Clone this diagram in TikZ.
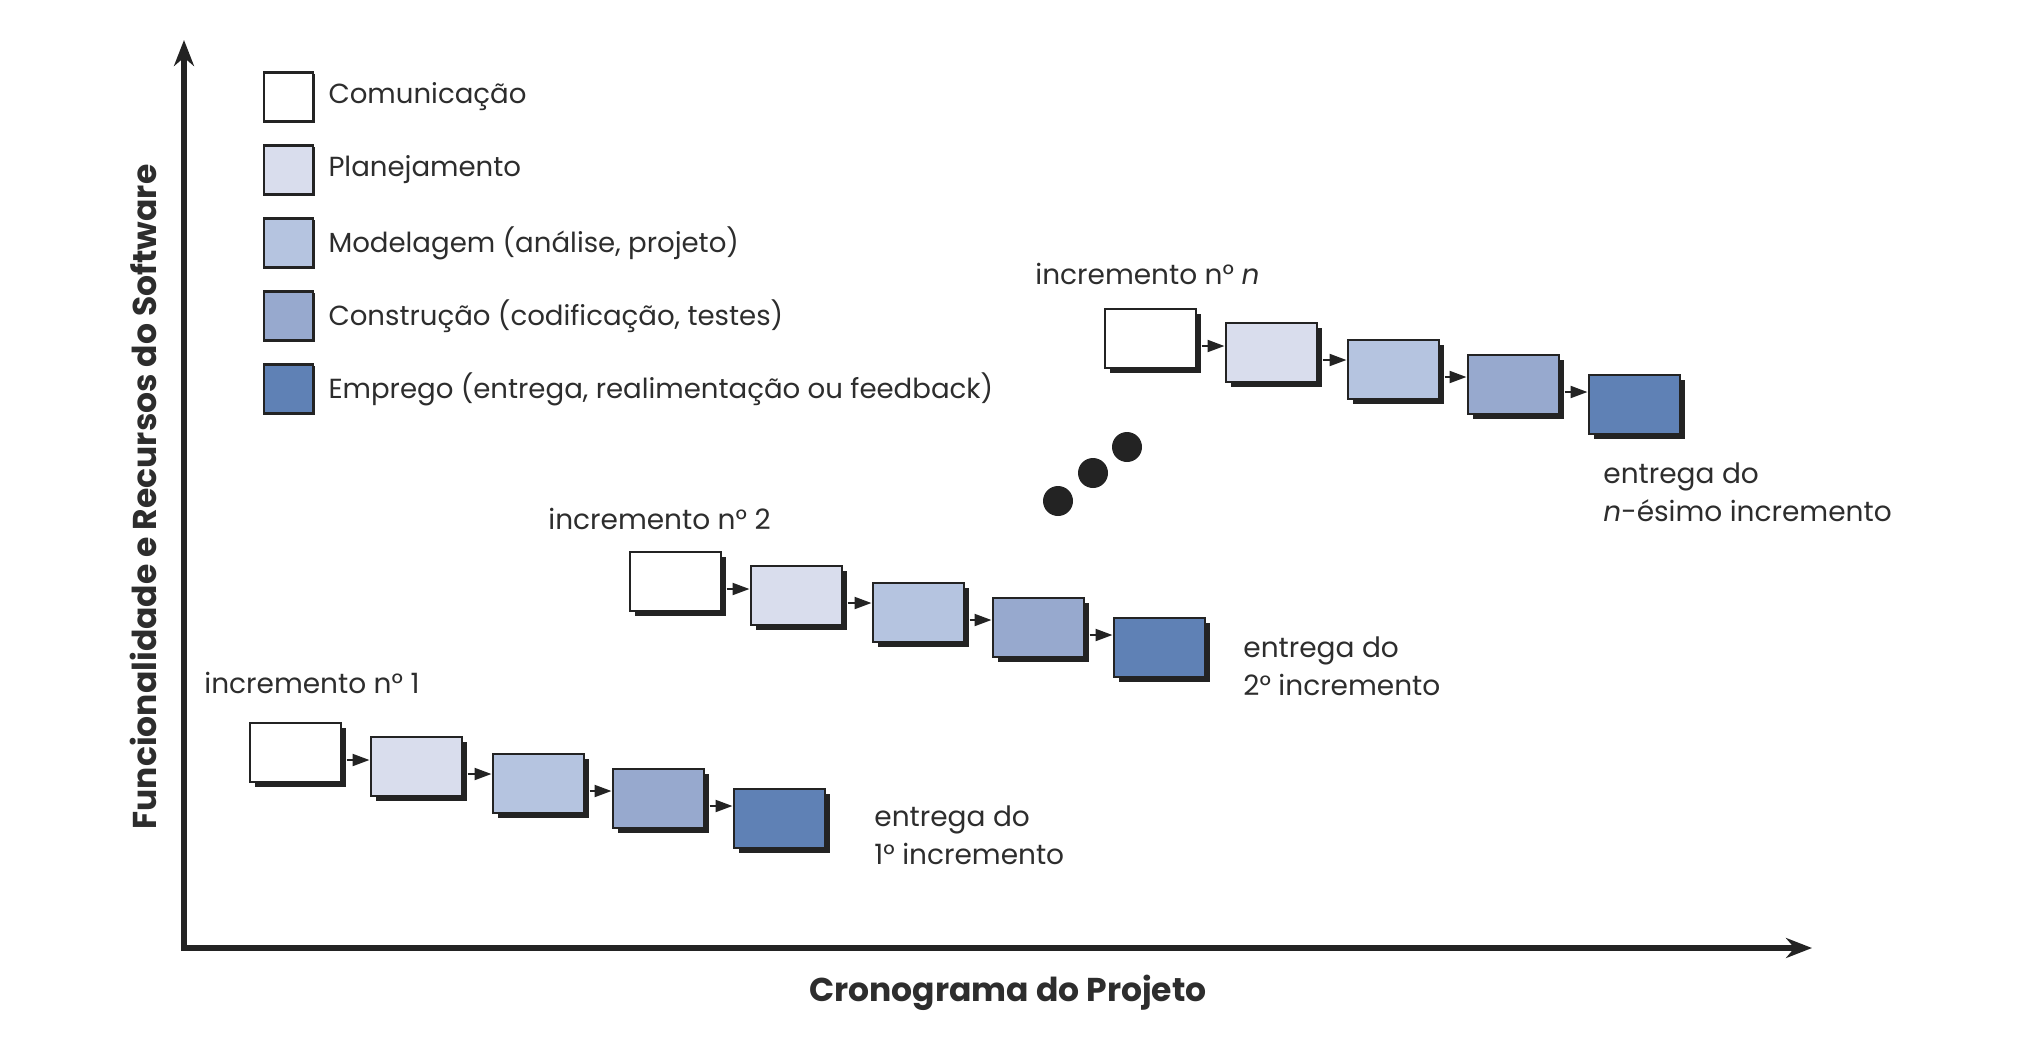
\documentclass[tikz,border=0pt]{standalone}
\usepackage{fontspec}
\setmainfont{Poppins}
\usetikzlibrary{arrows.meta,shadows,calc,positioning}

\definecolor{comcolor}{RGB}{255,255,255}
\definecolor{placolor}{RGB}{217,221,237}
\definecolor{modcolor}{RGB}{181,196,224}
\definecolor{concolor}{RGB}{151,169,206}
\definecolor{empcolor}{RGB}{95,129,181}
\definecolor{txtcolor}{RGB}{45,45,45}
\definecolor{edgecolor}{RGB}{35,35,35}

\tikzset{
  phase/.style={draw=edgecolor, line width=1pt, minimum width=45.5pt, minimum height=29.5pt, inner sep=0pt,
    drop shadow={shadow xshift=2.5pt, shadow yshift=-2.5pt, opacity=1, fill=edgecolor}},
  legbox/.style={draw=edgecolor, line width=1.1pt, minimum width=24.5pt, minimum height=24.5pt, inner sep=0pt,
    drop shadow={shadow xshift=0.8pt, shadow yshift=-0.8pt, opacity=1, fill=edgecolor}},
  legtext/.style={text=txtcolor, inner sep=0pt, anchor=west, font=\fontsize{13.8}{16}\selectfont},
  inctext/.style={text=txtcolor, inner sep=0pt, anchor=west, align=left, font=\fontsize{14}{19}\selectfont},
  axtext/.style={text=txtcolor, inner sep=0pt, font=\fontsize{16.5}{18}\selectfont\bfseries},
  axis/.style={draw=edgecolor, line width=2.8pt, line join=miter, {Stealth[length=13pt,width=10pt]}-{Stealth[length=13pt,width=10pt]}},
  flow/.style={draw=edgecolor, line width=1.1pt, -{Triangle[length=8.5pt,width=6pt]}}
}

\begin{document}
\begin{tikzpicture}[x=0.5pt,y=0.5pt,yscale=-1,xscale=1]
\useasboundingbox (0,0) rectangle (2036,1051);

% Axes
\coordinate (ytop) at (184,40);
\coordinate (orig) at (184,948);
\coordinate (xend) at (1812,948);
\draw[axis] (ytop) -- (orig) -- (xend);

% Axis labels
\node[axtext, rotate=90] (ylab) at (143,497) {Funcionalidade e Recursos do Software};
\node[axtext] (xlab) at (1008,993) {Cronograma do Projeto};

% Legend
\node[legbox, fill=comcolor] (lcom) at (288.5,97) {};
\node[legbox, fill=placolor] (lpla) at (288.5,170) {};
\node[legbox, fill=modcolor] (lmod) at (288.5,243) {};
\node[legbox, fill=concolor] (lcon) at (288.5,316) {};
\node[legbox, fill=empcolor] (lemp) at (288.5,389) {};
\node[legtext, right=7pt of lcom] (tcom) {Comunicação};
\node[legtext, right=7pt of lpla] (tpla) {Planejamento};
\node[legtext, right=7pt of lmod] (tmod) {Modelagem (análise, projeto)};
\node[legtext, right=7pt of lcon] (tcon) {Construção (codificação, testes)};
\node[legtext, right=7pt of lemp] (temp) {Emprego (entrega, realimentação ou feedback)};

% Increment 1
\node[inctext] (inc1) at (204,683) {incremento n° 1};
\node[phase, fill=comcolor] (a1) at (295,752) {};
\node[phase, fill=placolor] (a2) at (416,766) {};
\node[phase, fill=modcolor] (a3) at (538,783) {};
\node[phase, fill=concolor] (a4) at (658,798) {};
\node[phase, fill=empcolor] (a5) at (779,818) {};
\draw[flow] ($(a1.east)+(5,8)$) -- ($(a2.west |- a1.east)+(0,8)$);
\draw[flow] ($(a2.east)+(5,8)$) -- ($(a3.west |- a2.east)+(0,8)$);
\draw[flow] ($(a3.east)+(5,8)$) -- ($(a4.west |- a3.east)+(0,8)$);
\draw[flow] ($(a4.east)+(5,8)$) -- ($(a5.west |- a4.east)+(0,8)$);
\node[inctext] (ent1) at (874,835) {entrega do\\1° incremento};

% Increment 2
\node[inctext] (inc2) at (548,519) {incremento n° 2};
\node[phase, fill=comcolor] (b1) at (675,581) {};
\node[phase, fill=placolor] (b2) at (796,595) {};
\node[phase, fill=modcolor] (b3) at (918,612) {};
\node[phase, fill=concolor] (b4) at (1038,627) {};
\node[phase, fill=empcolor] (b5) at (1159,647) {};
\draw[flow] ($(b1.east)+(5,8)$) -- ($(b2.west |- b1.east)+(0,8)$);
\draw[flow] ($(b2.east)+(5,8)$) -- ($(b3.west |- b2.east)+(0,8)$);
\draw[flow] ($(b3.east)+(5,8)$) -- ($(b4.west |- b3.east)+(0,8)$);
\draw[flow] ($(b4.east)+(5,8)$) -- ($(b5.west |- b4.east)+(0,8)$);
\node[inctext] (ent2) at (1243,666) {entrega do\\2° incremento};

% Dots
\fill[edgecolor] (1058,501) circle [radius=15];
\fill[edgecolor] (1093,473) circle [radius=15];
\fill[edgecolor] (1127,447) circle [radius=15];

% Increment n
\node[inctext] (incn) at (1035,274) {incremento n° \textit{n}};
\node[phase, fill=comcolor] (n1) at (1150,338) {};
\node[phase, fill=placolor] (n2) at (1271,352) {};
\node[phase, fill=modcolor] (n3) at (1393,369) {};
\node[phase, fill=concolor] (n4) at (1513,384) {};
\node[phase, fill=empcolor] (n5) at (1634,404) {};
\draw[flow] ($(n1.east)+(5,8)$) -- ($(n2.west |- n1.east)+(0,8)$);
\draw[flow] ($(n2.east)+(5,8)$) -- ($(n3.west |- n2.east)+(0,8)$);
\draw[flow] ($(n3.east)+(5,8)$) -- ($(n4.west |- n3.east)+(0,8)$);
\draw[flow] ($(n4.east)+(5,8)$) -- ($(n5.west |- n4.east)+(0,8)$);
\node[inctext] (entn) at (1603,492) {entrega do\\\textit{n}-ésimo incremento};

\end{tikzpicture}
\end{document}
